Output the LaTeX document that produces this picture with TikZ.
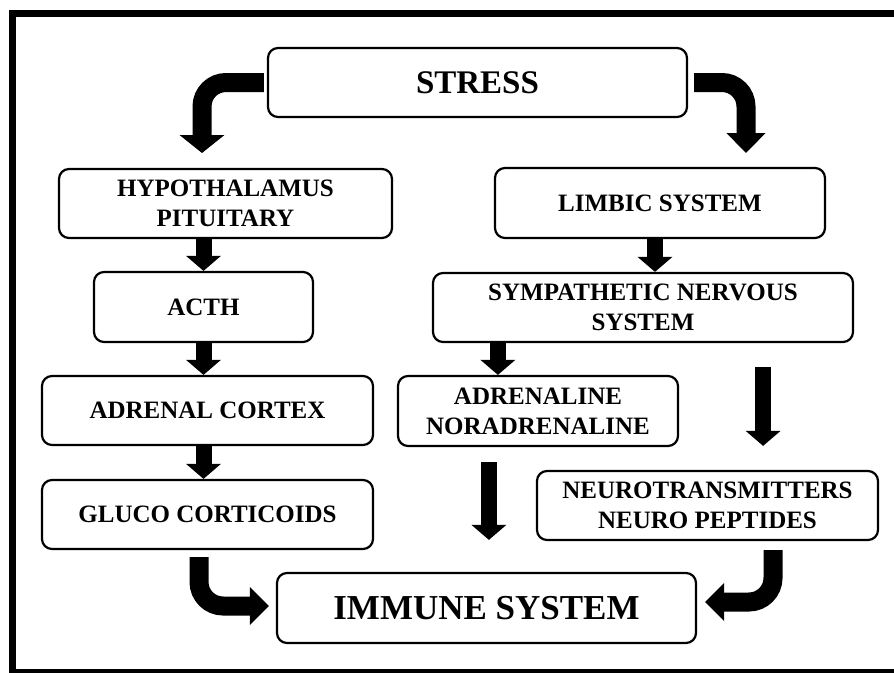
\documentclass[tikz,border=0pt]{standalone}
\usepackage{fontspec}
\setmainfont{Liberation Serif}
\usetikzlibrary{arrows.meta, calc}

\begin{document}
\begin{tikzpicture}[x=1pt, y=-1pt,
  box/.style={draw, line width=2.2pt, rounded corners=10pt, align=center,
              inner sep=0pt, font=\fontsize{25}{30}\selectfont\bfseries},
  fatarrow/.style={line width=16pt, -{Triangle[width=34pt, length=15pt]}},
  bendarrow/.style={line width=19pt, rounded corners=24pt,
                    -{Triangle[width=41pt, length=19pt]}}]

\useasboundingbox (0,0) rectangle (894,672);
\clip (0,0) rectangle (894,672);

% === Frame ===
\draw[line width=7pt] (12,13.5) rectangle (905,672.5);

% === Top ===
\node[box, minimum width=419pt, minimum height=69pt,
      font=\fontsize{33}{36}\selectfont\bfseries] (stress) at (477.5,82.5) {STRESS};

% === Left branch ===
\node[box, minimum width=333pt, minimum height=69pt] (hypo) at (225.5,203.5)
     {HYPOTHALAMUS\\PITUITARY};
\node[box, minimum width=219pt, minimum height=70pt] (acth) at (203.5,307) {ACTH};
\node[box, minimum width=331pt, minimum height=69pt] (adrenal) at (207.5,410.5)
     {ADRENAL CORTEX};
\node[box, minimum width=331pt, minimum height=69pt] (gluco) at (207.5,514.5)
     {GLUCO CORTICOIDS};

% === Right branch ===
\node[box, minimum width=330pt, minimum height=70pt] (limbic) at (660,203)
     {LIMBIC SYSTEM};
\node[box, minimum width=420pt, minimum height=69pt] (sns) at (643,307.5)
     {SYMPATHETIC NERVOUS\\SYSTEM};
\node[box, minimum width=280pt, minimum height=70pt] (adrenaline) at (538,411)
     {ADRENALINE\\NORADRENALINE};
\node[box, minimum width=341pt, minimum height=69pt] (neuro) at (707.5,505.5)
     {NEUROTRANSMITTERS\\NEURO PEPTIDES};

% === Bottom ===
\node[box, minimum width=419pt, minimum height=70pt,
      font=\fontsize{35}{38}\selectfont\bfseries] (immune) at (486.5,608) {IMMUNE SYSTEM};

% Bent arrows from stress
\coordinate (hypotip) at (202,153);
\coordinate (limbictip) at (746,153);
\draw[bendarrow, -{Triangle[width=44pt, length=18pt]}] ($(stress.west)+(-3,0)$) -| (hypotip);
\draw[bendarrow, -{Triangle[width=38pt, length=20pt]}] ($(stress.east)+(6,0)$) -| (limbictip);

% Left chain
\draw[fatarrow] (acth.north |- hypo.south) -- (acth.north);
\draw[fatarrow] (acth.south) -- (acth.south |- adrenal.north);
\draw[fatarrow] (acth.south |- adrenal.south) -- (acth.south |- gluco.north);

% Right chain
\coordinate (l2s) at ($(limbic.south)+(-5,0)$);
\coordinate (s2a) at ($(sns.south west)+(66,0)$);
\coordinate (s2n) at ($(sns.south east)+(-91,0)$);
\coordinate (a2i) at ($(adrenaline.south west)+(92,0)$);
\draw[fatarrow] (l2s) -- (l2s |- sns.north);
\draw[fatarrow] (s2a) -- (s2a |- adrenaline.north);
\draw[fatarrow, shorten <=24pt, shorten >=24pt] (s2n) -- (s2n |- neuro.north);
\draw[fatarrow, shorten <=15pt, shorten >=32pt] (a2i) -- (a2i |- immune.north);

% Bent arrows into immune system
\draw[bendarrow, -{Triangle[width=37pt, length=19pt]}]
     ($(gluco.south)+(-8.5,7)$) |- ($(immune.west)+(-7,-2)$);
\draw[bendarrow, -{Triangle[width=37pt, length=19pt]}]
     ($(neuro.south)+(65.5,9)$) |- ($(immune.east)+(8,-6)$);

\end{tikzpicture}
\end{document}
